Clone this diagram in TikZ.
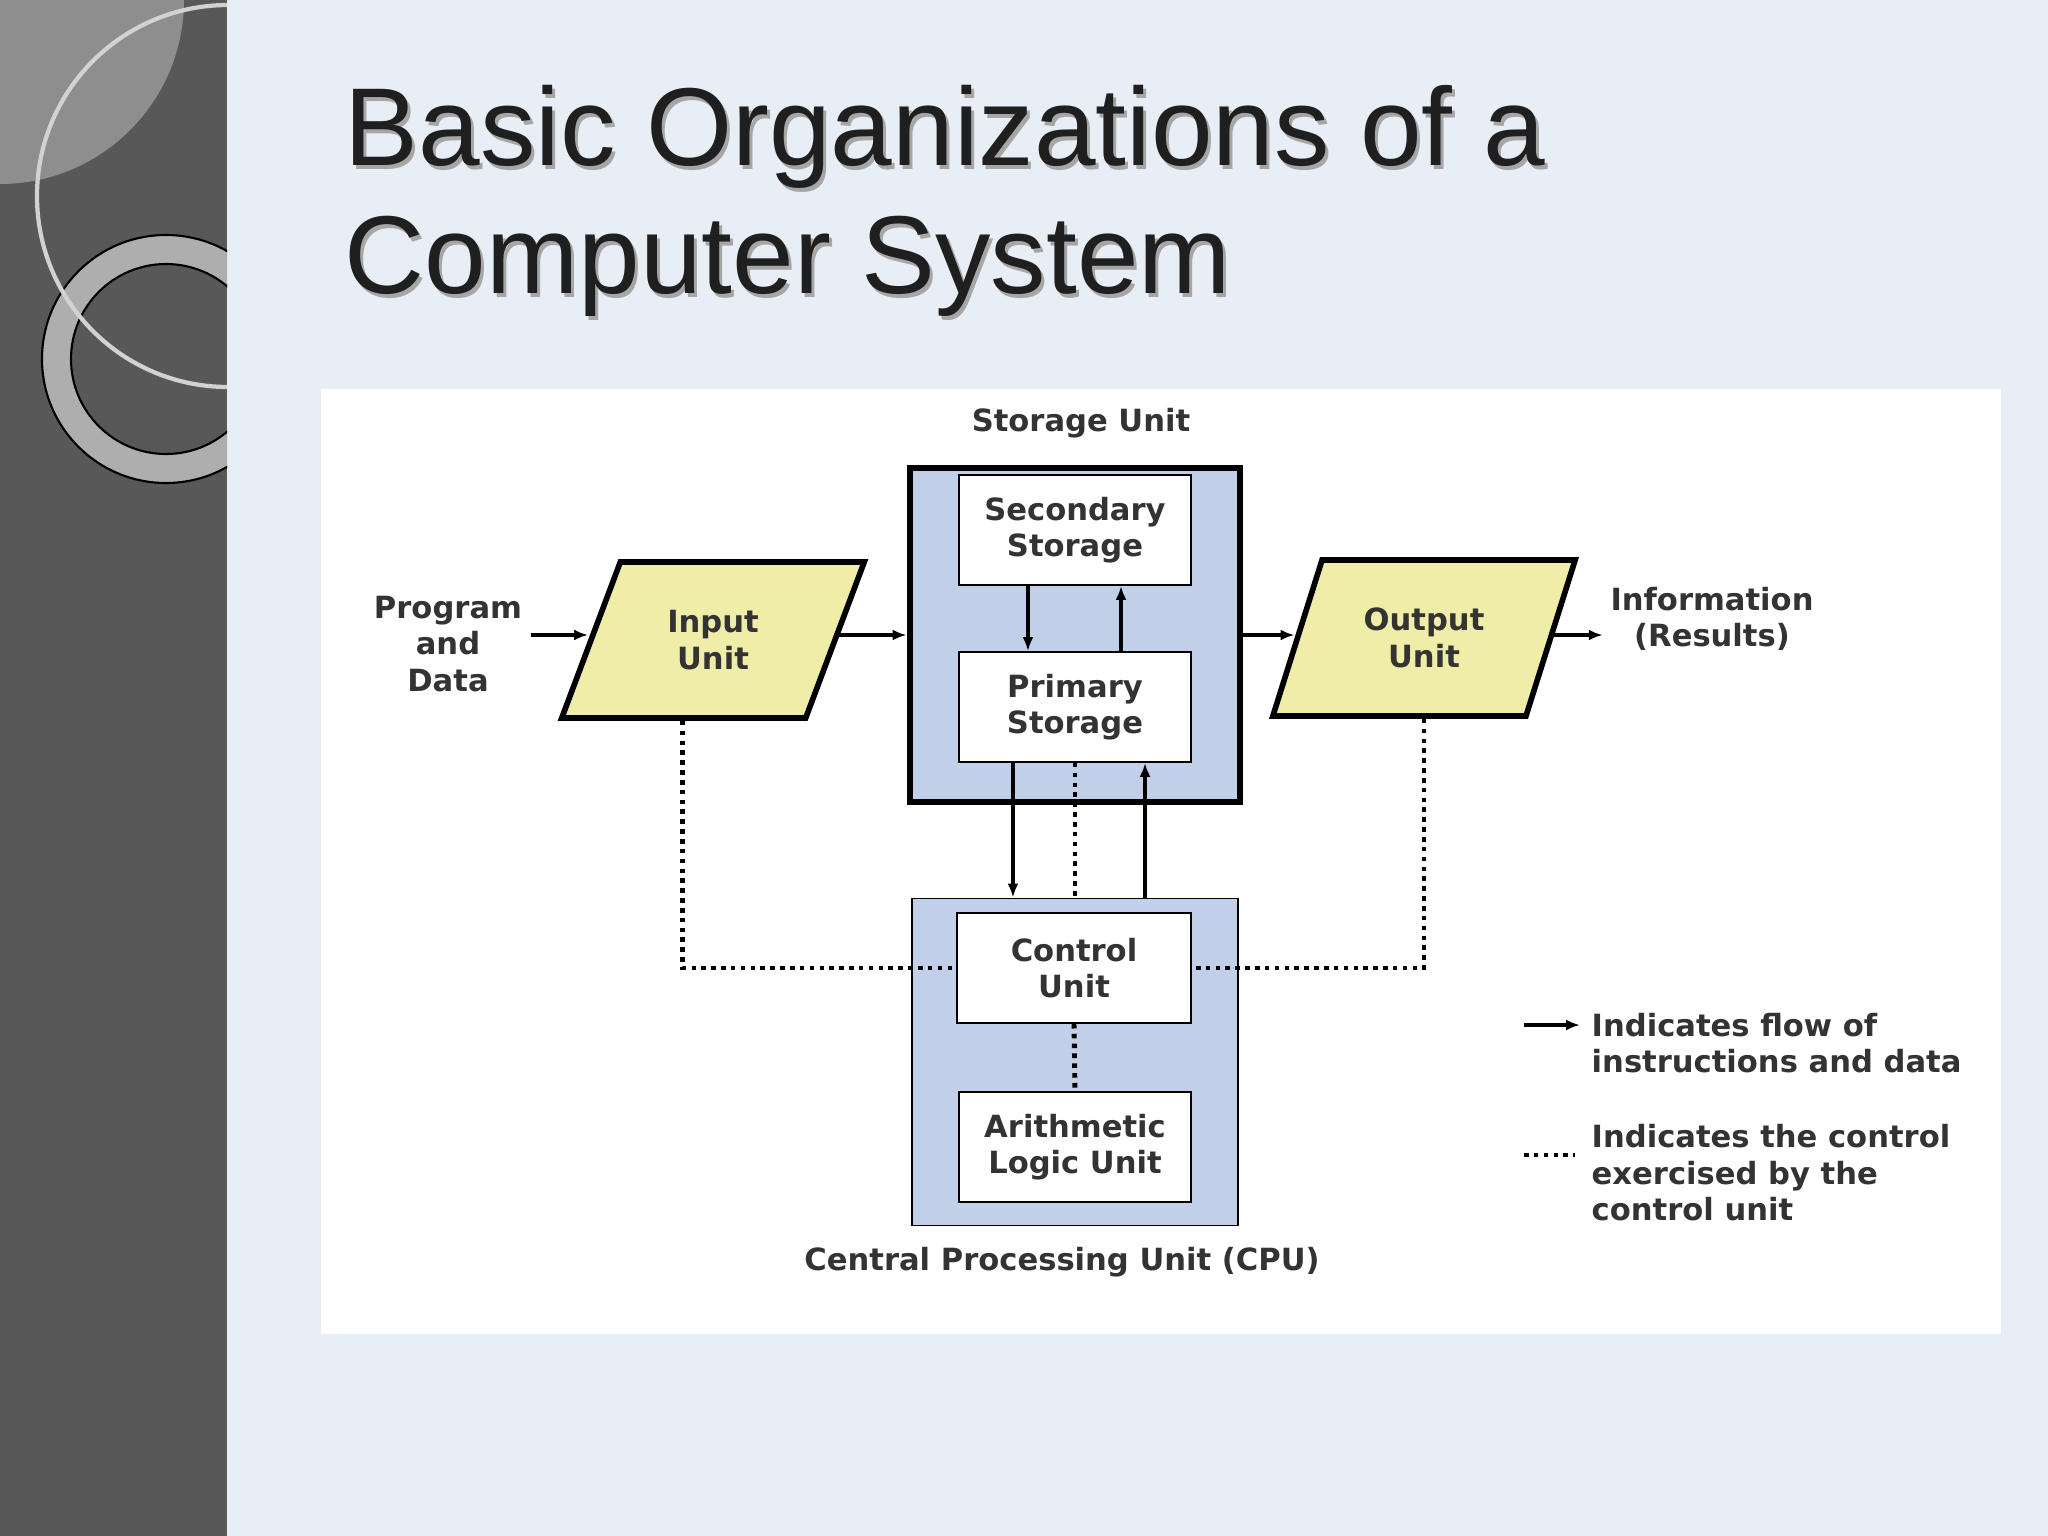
\documentclass[tikz,border=0pt]{standalone}
\usepackage{fontspec}
\setmainfont{DejaVu Sans}
\newfontfamily\titlefont{Liberation Sans}
\usetikzlibrary{shapes.geometric,arrows.meta}
\definecolor{slidebg}{HTML}{E8EEF6}
\definecolor{barcol}{HTML}{585858}
\definecolor{quartcol}{HTML}{8E8E8E}
\definecolor{ringcol}{HTML}{AEAEAE}
\definecolor{hoopcol}{HTML}{D2D2D2}
\definecolor{unitblue}{HTML}{C2CFE8}
\definecolor{ioyellow}{HTML}{F0EDA8}
\definecolor{inkcol}{HTML}{333333}
\tikzset{
  lbl/.style={font=\bfseries\fontsize{8.7}{10.4}\selectfont, text=inkcol, align=center, inner sep=0pt},
  inbox/.style={lbl, draw=black, line width=0.5pt, fill=white, minimum width=2.32cm, minimum height=1.1cm},
  iobox/.style={lbl, trapezium, trapezium left angle=64, trapezium right angle=116,
    trapezium stretches=true, draw=black, line width=1.6pt, fill=ioyellow,
    minimum width=3.03cm, minimum height=1.56cm},
  flow/.style={->, line width=0.9pt},
  ctrl/.style={line width=1.4pt, dash pattern=on 1.3pt off 1.5pt},
  titletext/.style={font=\titlefont\fontsize{31.5}{36.4}\selectfont, align=left, inner sep=0pt, anchor=west}
}
\begin{document}
\begin{tikzpicture}[>={Latex[length=0.14cm,width=0.11cm]}, x=0.01cm, y=-0.01cm]
% slide background
\fill[slidebg] (0,0) rectangle (2048,1536);
\useasboundingbox (0,0) rectangle (2048,1536);
\fill[barcol] (0,0) rectangle (227,1536);
\begin{scope}
  \clip (0,0) rectangle (227,1536);
  \fill[quartcol] (0,0) circle[radius=184];
  \fill[ringcol, even odd rule] (166,359) circle[radius=124] (166,359) circle[radius=95];
  \draw[black, line width=0.6pt] (166,359) circle[radius=124] (166,359) circle[radius=95];
  \draw[hoopcol, line width=1.2pt] (228,196) circle[radius=191];
\end{scope}
\fill[white] (321,389) rectangle (2001,1334);

% title
\node[titletext, text=black!35] (titleshadow) at (347,205) {Basic Organizations of a\\Computer System};
\node[titletext, text=black!88] (title) at (344,201) {Basic Organizations of a\\Computer System};

% storage unit
\node[lbl, draw=black, line width=1.9pt, fill=unitblue, minimum width=3.3cm, minimum height=3.34cm] (sto) at (1075,635) {};
\node[lbl] (stolbl) at (1081,423) {Storage Unit};
\node[inbox] (sec) at (1075,530) {Secondary\\Storage};
\node[inbox] (pri) at (1075,707) {Primary\\Storage};

% cpu
\node[lbl, draw=black, line width=0.5pt, fill=unitblue, minimum width=3.26cm, minimum height=3.27cm] (cpu) at (1075,1062) {};
\node[lbl] (cpulbl) at (1062,1262) {Central Processing Unit (CPU)};
\node[inbox, minimum width=2.34cm] (ctl) at (1074,968) {Control\\Unit};
\node[inbox] (alu) at (1075,1147) {Arithmetic\\Logic Unit};

% input and output
\node[lbl] (prog) at (448,644) {Program\\and\\Data};
\node[iobox] (inp) at (713,640) {Input\\Unit};
\node[iobox] (outp) at (1424,638) {Output\\Unit};
\node[lbl] (info) at (1712,619) {Information\\(Results)};

\draw[flow, shorten <=0.08cm] (prog.east |- sto.west) -- (inp.west |- sto.west);
\draw[flow] (inp.east |- sto.west) -- (sto.west);
\draw[flow] (sto.east) -- (outp.west |- sto.east);
\draw[flow, shorten >=0.07cm] (outp.east |- sto.east) -- (info.west |- sto.east);

\draw[flow] ([xshift=-0.47cm]sec.south) -- ([xshift=-0.47cm]pri.north);
\draw[flow] ([xshift=0.46cm]pri.north) -- ([xshift=0.46cm]sec.south);
\draw[flow] ([xshift=-0.62cm]pri.south) -- ([xshift=-0.62cm]cpu.north);
\draw[flow] ([xshift=0.70cm]cpu.north) -- ([xshift=0.70cm]pri.south);

% control lines
\draw[ctrl] (pri.south) -- (cpu.north);
\draw[ctrl] (ctl.south) -- (alu.north);
\draw[ctrl] (inp.bottom side) |- (ctl.west);
\draw[ctrl] (outp.south) |- (ctl.east);

% legend
\coordinate (lgA) at (1524,1025);
\coordinate (lgB) at (1524,1155);
\node[lbl, anchor=west, align=left, inner sep=0.11cm] (lgflow) at (1580,1043) {Indicates flow of\\instructions and data};
\node[lbl, anchor=west, align=left, inner sep=0.16cm] (lgctrl) at (1575,1173) {Indicates the control\\exercised by the\\control unit};
\draw[flow] (lgA) -- (lgflow.west |- lgA);
\draw[ctrl] (lgB) -- (lgctrl.west |- lgB);

\end{tikzpicture}
\end{document}
